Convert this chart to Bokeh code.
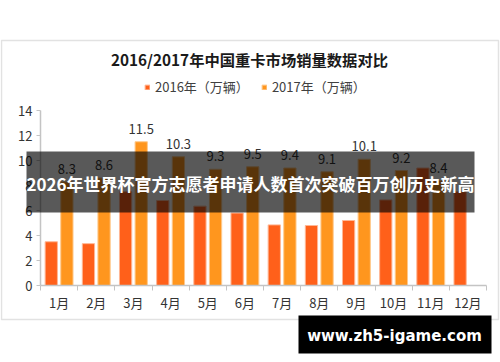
from bokeh.plotting import figure
from bokeh.models import (Range1d, FixedTicker, BoxAnnotation, Label, Legend, LegendItem,
                          ColumnDataSource, GlobalInlineStyleSheet)
from bokeh.core.properties import value
from bokeh.embed import file_html
from bokeh.resources import INLINE

# ---- data ----
months = ["1月", "2月", "3月", "4月", "5月", "6月", "7月", "8月", "9月", "10月", "11月", "12月"]
sales_2016 = [3.5, 3.35, 7.5, 6.8, 6.35, 5.8, 4.85, 4.8, 5.2, 6.85, 9.4, 7.5]
sales_2017 = [8.3, 8.6, 11.5, 10.3, 9.3, 9.5, 9.4, 9.1, 10.1, 9.2, 8.4]
y_ticks = [0, 2, 4, 6, 8, 10, 12, 14]
title_text = "2016/2017年中国重卡市场销量数据对比"
legend_labels = ["2016年（万辆）", "2017年（万辆）"]
banner_text = "2026年世界杯官方志愿者申请人数首次突破百万创历史新高"
site_text = "www.zh5-igame.com"

# ---- layout (pixel geometry of the plotting area inside the canvas) ----
W, H = 500, 362
FL, FR, FT, FB = 40, 486, 110, 285
NM = len(months)
YMAX = y_ticks[-1]
px_x = (FR - FL) / NM
px_y = (FB - FT) / YMAX
CJK = "Noto Sans CJK SC"
C16 = "#FF601A"
C17 = "#FF961E"
AXC = "#c4c4c4"

p = figure(width=W, height=H,
           x_range=Range1d(-FL / px_x, NM + (W - FR) / px_x),
           y_range=Range1d(-(H - FB) / px_y, YMAX + FT / px_y),
           output_backend="svg", toolbar_location=None, min_border=0)
p.stylesheets = [GlobalInlineStyleSheet(css="html, body { margin: 0 !important; padding: 0 !important; overflow: hidden; }")]
p.outline_line_color = None
p.xgrid.visible = False
p.ygrid.visible = False
p.background_fill_color = "white"
p.border_fill_color = "white"

# y axis
p.yaxis.fixed_location = 0
p.yaxis.bounds = (0, YMAX)
p.yaxis.ticker = FixedTicker(ticks=y_ticks)
p.yaxis.axis_line_color = AXC
p.yaxis.axis_line_width = 1.5
p.yaxis.major_tick_line_color = AXC
p.yaxis.major_tick_out = 4
p.yaxis.major_tick_in = 0
p.yaxis.minor_tick_line_color = None
p.yaxis.major_label_standoff = 4
p.yaxis.major_label_text_font = CJK
p.yaxis.major_label_text_font_size = "13px"
p.yaxis.major_label_text_color = "#333333"

# x axis: labels at month centres, tick marks at month boundaries
centres = [i + 0.5 for i in range(NM)]
p.xaxis.fixed_location = 0
p.xaxis.bounds = (0, NM)
p.xaxis.ticker = FixedTicker(ticks=centres, minor_ticks=list(range(NM + 1)))
p.xaxis.major_label_overrides = {c: m for c, m in zip(centres, months)}
p.xaxis.axis_line_color = AXC
p.xaxis.axis_line_width = 1.5
p.xaxis.major_tick_line_color = None
p.xaxis.major_tick_out = 0
p.xaxis.major_tick_in = 0
p.xaxis.minor_tick_line_color = AXC
p.xaxis.minor_tick_out = 5
p.xaxis.minor_tick_in = 0
p.xaxis.major_label_standoff = 2
p.xaxis.major_label_text_font = CJK
p.xaxis.major_label_text_font_size = "13px"
p.xaxis.major_label_text_color = "#333333"

# bars
src16 = ColumnDataSource(dict(x=[i + 0.5 - 0.21 for i in range(len(sales_2016))], top=sales_2016))
src17 = ColumnDataSource(dict(x=[i + 0.5 + 0.21 for i in range(len(sales_2017))], top=sales_2017,
                              lbl=[f"{v:.1f}" for v in sales_2017]))
r16 = p.vbar(x="x", top="top", width=0.33, source=src16, fill_color=C16,
             line_color="#FFB795", line_width=1)
r17 = p.vbar(x="x", top="top", width=0.33, source=src17, fill_color=C17,
             line_color="#FFC98C", line_width=1)
p.text(x="x", y="top", text="lbl", source=src17, text_align="center",
       text_baseline="alphabetic", y_offset=-13, text_font=value(CJK),
       text_font_size="13px", text_color="#333333")

# legend (location in pixels from the bottom-left of the canvas)
legend = Legend(items=[LegendItem(label=legend_labels[0], renderers=[r16]),
                       LegendItem(label=legend_labels[1], renderers=[r17])],
                orientation="horizontal", location=(144, H - 96),
                glyph_width=6, glyph_height=6, label_standoff=5, spacing=12,
                padding=0, margin=0, border_line_color=None, background_fill_alpha=0,
                label_text_font=CJK, label_text_font_size="13px",
                label_text_color="#404040", label_height=14)
p.add_layout(legend)

def box(left, right, top, bottom, **kw):
    return BoxAnnotation(left=left, right=right, top=H - top, bottom=H - bottom,
                         left_units="screen", right_units="screen",
                         top_units="screen", bottom_units="screen", **kw)

def label(x, y, text, **kw):
    return Label(x=x, y=H - y, x_units="screen", y_units="screen", text=text,
                 text_align="center", text_baseline="middle", **kw)

# chart frame
p.add_layout(box(1, 498, 40, 319, fill_alpha=0, line_color="#a0a0a0", line_width=1.5))
# title
p.add_layout(label(249, 58, title_text, text_font=CJK, text_font_size="15.3px",
                   text_font_style="bold", text_color="#1a1a1a"))
# banner
p.add_layout(box(26, 474, 151, 212, fill_color="black", fill_alpha=0.65, line_alpha=0))
p.add_layout(label(250, 183, banner_text, text_font=CJK, text_font_size="17px",
                   text_font_style="bold", text_color="white"))
# site label
p.add_layout(box(298, 491, 315, 353, fill_color="black", fill_alpha=1, line_alpha=0))
p.add_layout(label(394, 335, site_text, text_font="DejaVu Sans", text_font_size="15px",
                   text_font_style="bold", text_color="white"))

open("out.html", "w").write(file_html(p, INLINE))
